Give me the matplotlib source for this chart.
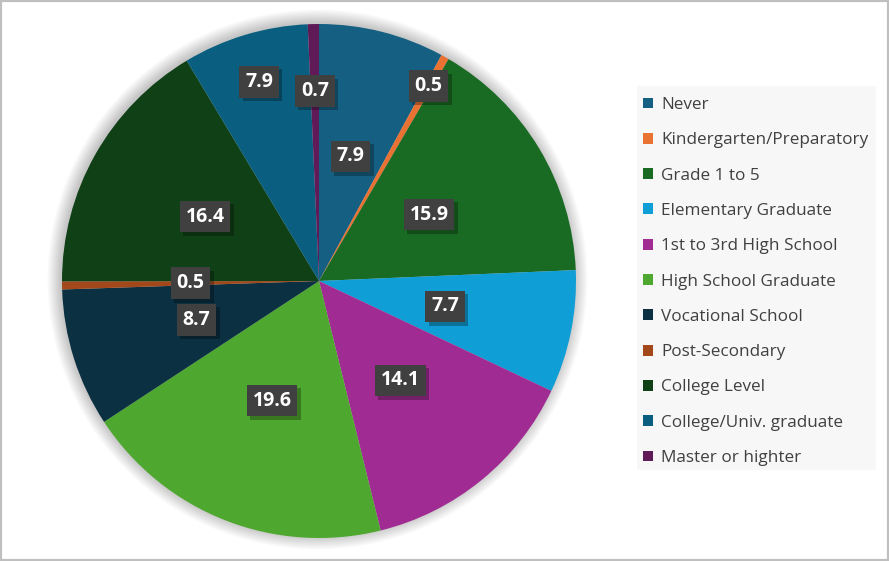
import matplotlib
matplotlib.use("Agg")
import matplotlib.pyplot as plt
import matplotlib.patheffects as pe
from matplotlib.patches import Rectangle, Circle, Patch
import numpy as np

categories = ["Never", "Kindergarten/Preparatory", "Grade 1 to 5", "Elementary Graduate",
              "1st to 3rd High School", "High School Graduate", "Vocational School",
              "Post-Secondary", "College Level", "College/Univ. graduate", "Master or highter"]
values = [7.9, 0.5, 15.9, 7.7, 14.1, 19.6, 8.7, 0.5, 16.4, 7.9, 0.7]
value_labels = ["7.9", "0.5", "15.9", "7.7", "14.1", "19.6", "8.7", "0.5", "16.4", "7.9", "0.7"]

colors = ["#156082", "#E97132", "#196B24", "#0F9ED5", "#A02B93", "#4EA72E",
          "#0B3041", "#A2481B", "#0F4016", "#0A5F80", "#601A58"]
label_radius = [0.5, 0.87, 0.5, 0.5, 0.5, 0.5, 0.5, 0.5, 0.51, 0.81, 0.74]

plt.rcParams['font.family'] = ['Open Sans', 'DejaVu Sans']

W, H = 889, 561
fig = plt.figure(figsize=(W / 100, H / 100), dpi=100)
fig.patch.set_facecolor("white")

cx, cy, R = 319, 281, 257
ax = fig.add_axes([(cx - R) / W, (H - cy - R) / H, 2 * R / W, 2 * R / H])
ax.axis("off")

wedges, _ = ax.pie(values, colors=colors, startangle=90, counterclock=False,
                   radius=1.0, wedgeprops=dict(linewidth=0, edgecolor="none"))
for w in wedges:
    w.set_zorder(1)
ax.set_xlim(-1, 1)
ax.set_ylim(-1, 1)
ax.set_aspect("equal")

# soft shadow around pie
for r in np.linspace(1.05, 1.0, 10):
    ax.add_patch(Circle((-0.006, 0.006), r, color="black", alpha=0.022, lw=0,
                        zorder=0, clip_on=False))

total = sum(values)
cum = 0.0
for v, lab, rr in zip(values, value_labels, label_radius):
    mid = (cum + v / 2) / total * 360.0
    cum += v
    theta = np.deg2rad(90 - mid)
    x, y = rr * np.cos(theta), rr * np.sin(theta)
    t = ax.text(x, y, lab, ha="center", va="center", color="white", fontsize=14,
                fontweight="bold", zorder=5,
                bbox=dict(boxstyle="square,pad=0.3", facecolor="#404040",
                          edgecolor="none"))
    t.get_bbox_patch().set_path_effects([
        pe.SimplePatchShadow(offset=(2.5, -2.5), shadow_rgbFace="black", alpha=0.28),
        pe.Normal()])

# legend background
fig.patches.append(Rectangle((637 / W, 1 - 470 / H), (876 - 637) / W, (470 - 86) / H,
                             transform=fig.transFigure, facecolor="#f7f7f7",
                             edgecolor="none", zorder=0))
handles = [Patch(facecolor=c, edgecolor="none") for c in colors]
leg = fig.legend(handles, categories, loc="upper left",
                 bbox_to_anchor=(643 / W, 1 - 97 / H), frameon=False,
                 fontsize=12.3, handlelength=0.6, handleheight=0.6,
                 handletextpad=0.45, labelspacing=1.13, labelcolor="#404040",
                 borderaxespad=0, borderpad=0.0)

# outer border
fig.patches.append(Rectangle((0, 0), 1, 1, transform=fig.transFigure, fill=False,
                             edgecolor="#bfbfbf", linewidth=3, zorder=10))

fig.savefig("out.png", dpi=100)
